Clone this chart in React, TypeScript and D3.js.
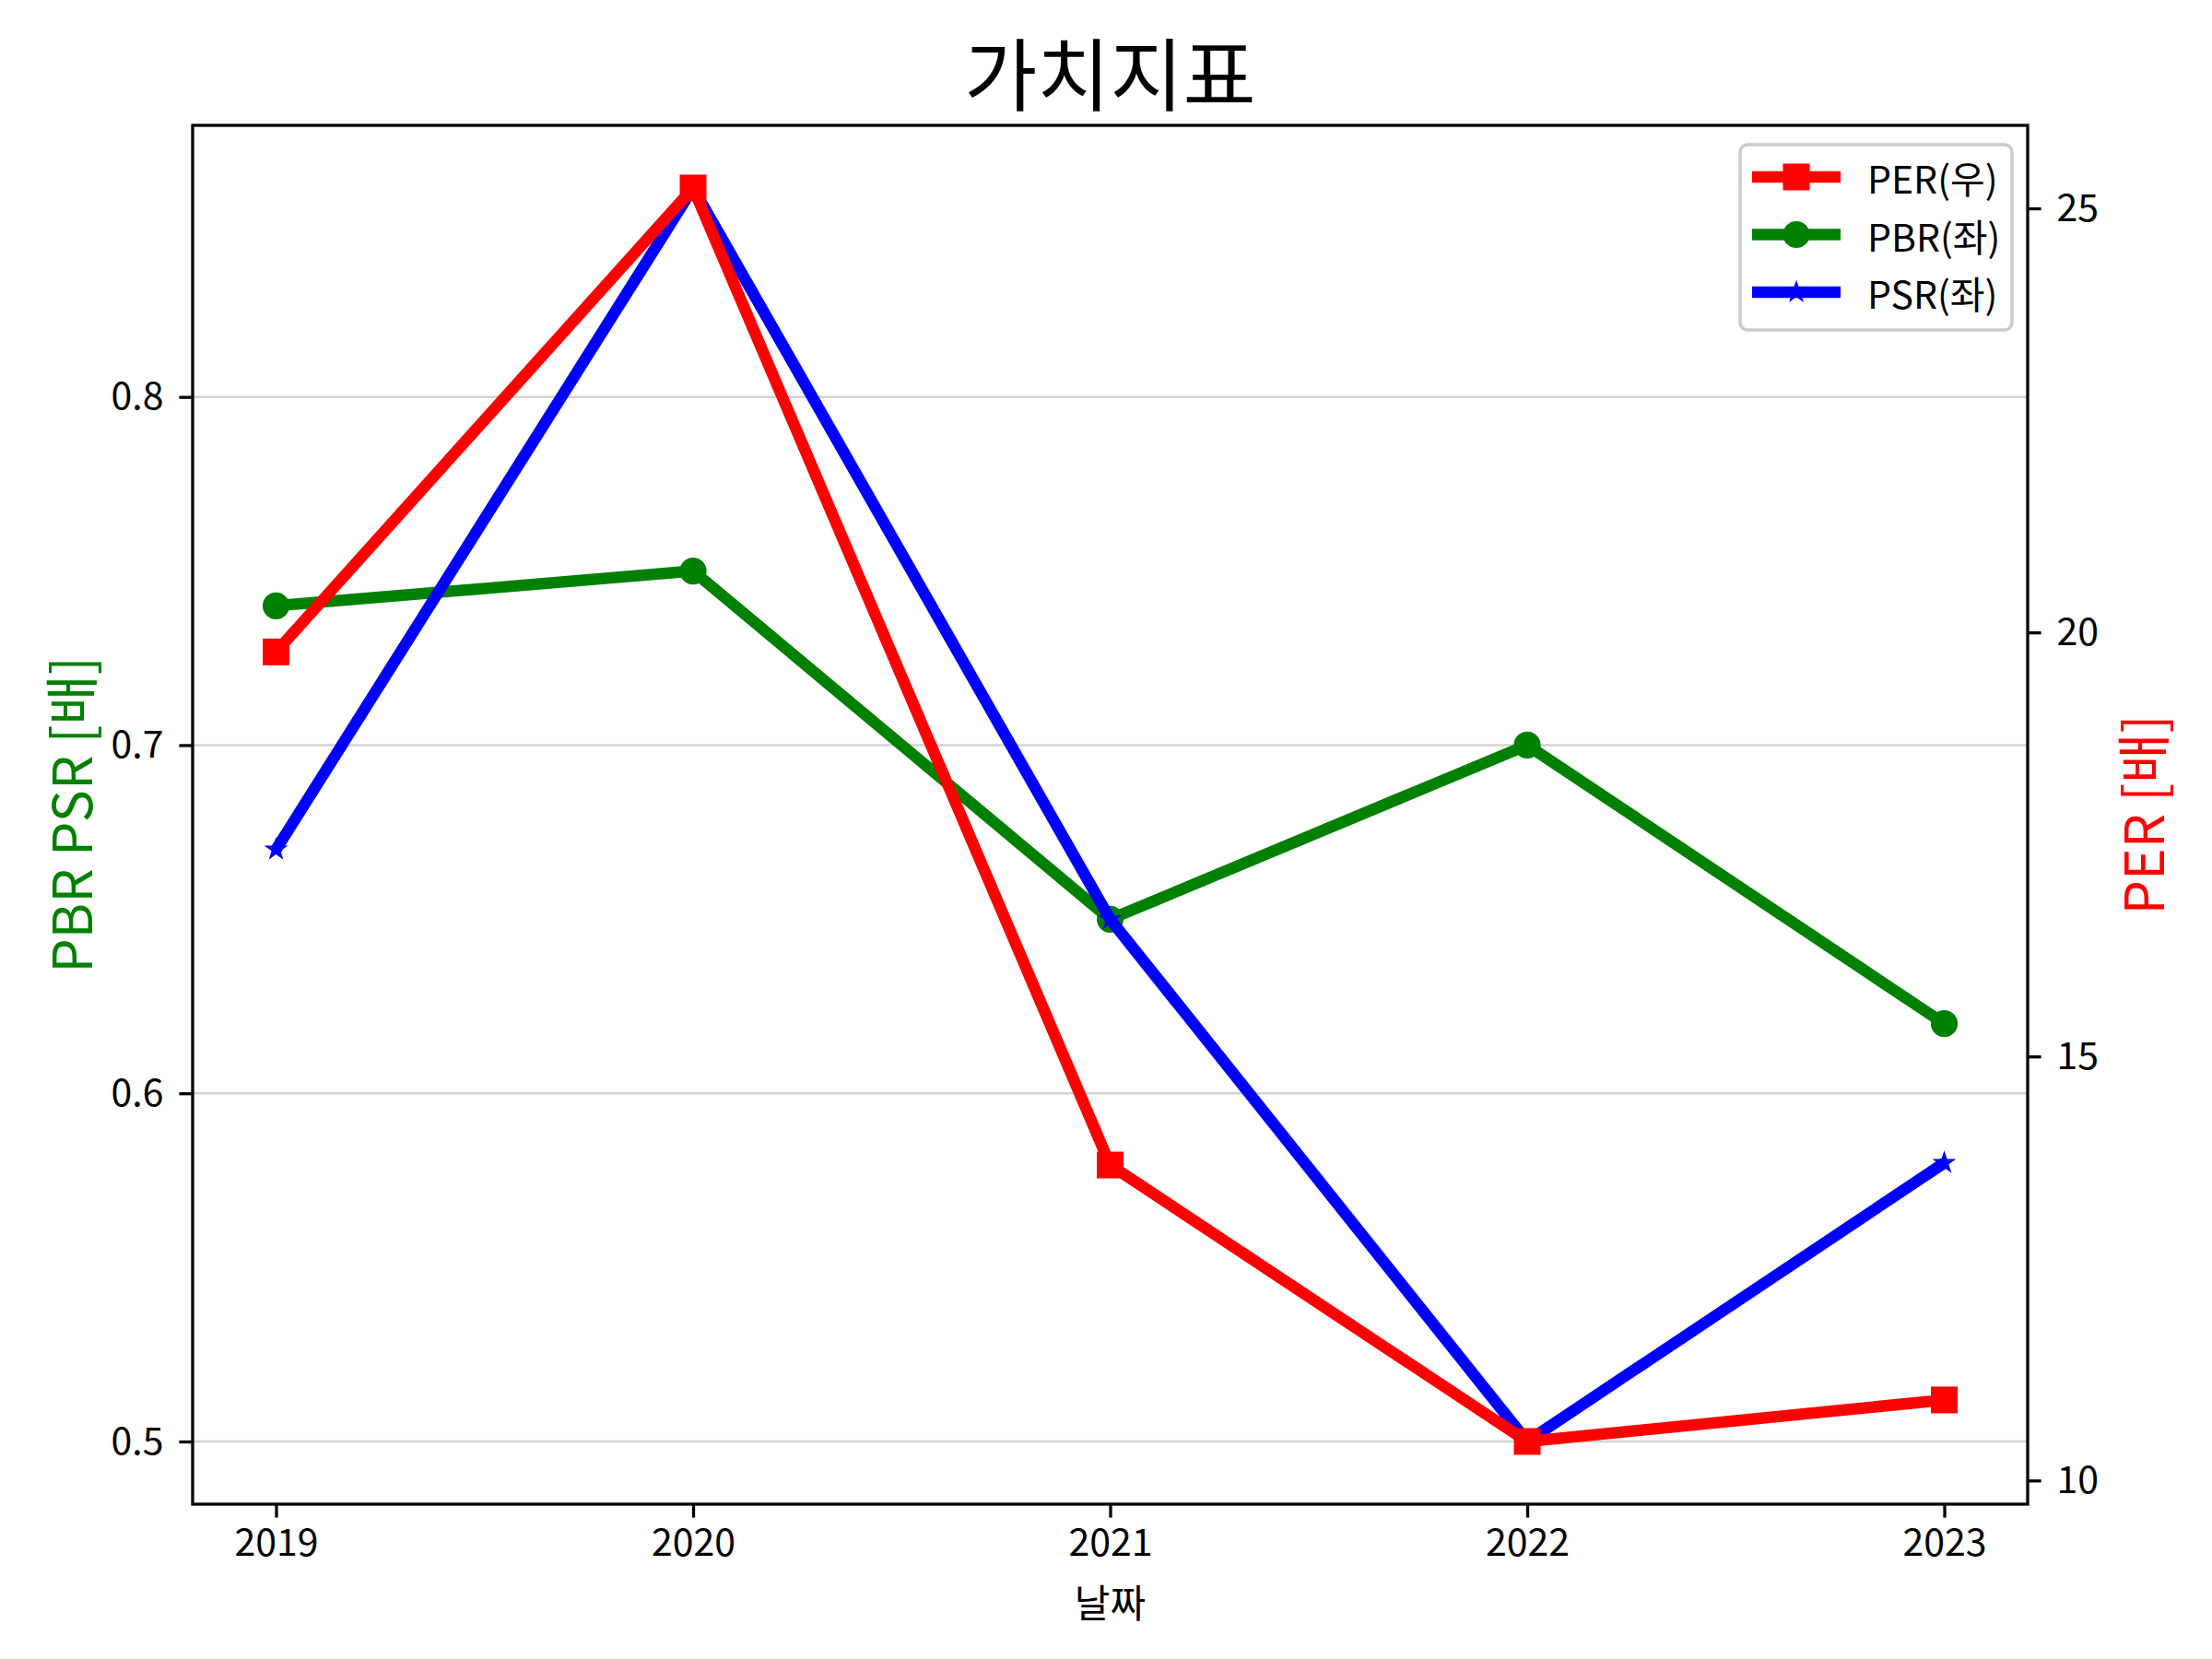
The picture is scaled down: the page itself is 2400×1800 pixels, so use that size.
import React, { useEffect, useRef } from 'react';
import * as d3 from 'd3';

const years = [2019, 2020, 2021, 2022, 2023];
const perValues = [19.77, 25.24, 13.72, 10.46, 10.95];
const pbrValues = [0.74, 0.75, 0.65, 0.7, 0.62];
const psrValues = [0.67, 0.86, 0.65, 0.5, 0.58];
const leftTicks = [0.5, 0.6, 0.7, 0.8];
const rightTicks = [10, 15, 20, 25];

const FONT = '"Noto Sans CJK KR", "Noto Sans", sans-serif';

// matplotlib-style autoscale with 5% margins
const padded = (vals: number[]): [number, number] => {
  const lo = d3.min(vals) as number;
  const hi = d3.max(vals) as number;
  const r = hi - lo;
  return [lo - 0.05 * r, hi + 0.05 * r];
};

const App: React.FC = () => {
  const svgRef = useRef<SVGSVGElement>(null);

  useEffect(() => {
    document.body.style.margin = '0';
    const W = 2400, H = 1800;
    const left = 209, right = 2200, top = 136, bottom = 1632;
    const lw = 12.5;

    const svg = d3.select(svgRef.current)
      .attr('width', W)
      .attr('height', H)
      .style('display', 'block')
      .style('font-family', FONT);
    svg.selectAll('*').remove();
    svg.append('rect').attr('width', W).attr('height', H).attr('fill', 'white');

    const x = d3.scaleLinear().domain([2019 - 0.2, 2023 + 0.2]).range([left, right]);
    const yL = d3.scaleLinear().domain(padded([...pbrValues, ...psrValues])).range([bottom, top]);
    const yR = d3.scaleLinear().domain(padded(perValues)).range([bottom, top]);

    // grid
    svg.append('g')
      .selectAll('line')
      .data(leftTicks)
      .enter()
      .append('line')
      .attr('x1', left).attr('x2', right)
      .attr('y1', d => yL(d)).attr('y2', d => yL(d))
      .attr('stroke', '#d3d3d3')
      .attr('stroke-width', 2.5);

    const plot = svg.append('g');
    const drawSeries = (
      vals: number[],
      scale: d3.ScaleLinear<number, number>,
      color: string,
      symbol: d3.SymbolType,
      size: number
    ) => {
      const line = d3.line<number>()
        .x((_, i) => x(years[i]))
        .y(d => scale(d));
      plot.append('path')
        .attr('d', line(vals) || '')
        .attr('fill', 'none')
        .attr('stroke', color)
        .attr('stroke-width', lw)
        .attr('stroke-linejoin', 'round')
        .attr('stroke-linecap', 'butt');
      plot.selectAll(null)
        .data(vals)
        .enter()
        .append('path')
        .attr('d', d3.symbol().type(symbol).size(size)() || '')
        .attr('transform', (d, i) => `translate(${x(years[i])},${scale(d)})`)
        .attr('fill', color);
    };

    drawSeries(pbrValues, yL, 'green', d3.symbolCircle, Math.PI * 14.6 * 14.6);
    drawSeries(psrValues, yL, 'blue', d3.symbolStar, 205);
    drawSeries(perValues, yR, 'red', d3.symbolSquare, 29 * 29);

    // axes
    const tickLen = 14.6;
    const axisW = 3.3;
    const styleAxis = (g: d3.Selection<SVGGElement, unknown, null, undefined>) => {
      g.select('.domain').remove();
      g.selectAll('.tick line').attr('stroke', 'black').attr('stroke-width', axisW);
      g.selectAll('.tick text')
        .attr('fill', 'black')
        .style('font-size', '41px')
        .style('font-family', FONT);
    };

    svg.append('g')
      .attr('transform', `translate(0,${bottom})`)
      .call(d3.axisBottom(x).tickValues(years).tickFormat(d => String(d)).tickSize(tickLen).tickPadding(12))
      .call(styleAxis)
      .selectAll('.tick text')
      .attr('dy', '0.71em');

    svg.append('g')
      .attr('transform', `translate(${left},0)`)
      .call(d3.axisLeft(yL).tickValues(leftTicks).tickFormat(d3.format('.1f')).tickSize(tickLen).tickPadding(17))
      .call(styleAxis);

    svg.append('g')
      .attr('transform', `translate(${right},0)`)
      .call(d3.axisRight(yR).tickValues(rightTicks).tickFormat(d => String(d)).tickSize(tickLen).tickPadding(17))
      .call(styleAxis);

    // spines
    svg.append('rect')
      .attr('x', left).attr('y', top)
      .attr('width', right - left).attr('height', bottom - top)
      .attr('fill', 'none')
      .attr('stroke', 'black')
      .attr('stroke-width', axisW);

    // title and labels
    svg.append('text')
      .attr('x', (left + right) / 2).attr('y', 76)
      .attr('text-anchor', 'middle')
      .attr('dominant-baseline', 'central')
      .style('font-size', '86px')
      .text('가치지표');

    svg.append('text')
      .attr('x', (left + right) / 2).attr('y', 1736)
      .attr('text-anchor', 'middle')
      .attr('dominant-baseline', 'central')
      .style('font-size', '42px')
      .text('날짜');

    svg.append('text')
      .attr('transform', `translate(74,${(top + bottom) / 2}) rotate(-90)`)
      .attr('text-anchor', 'middle')
      .attr('dominant-baseline', 'central')
      .attr('fill', 'green')
      .style('font-size', '59px')
      .text('PBR PSR [배]');

    svg.append('text')
      .attr('transform', `translate(2322,${(top + bottom) / 2}) rotate(-90)`)
      .attr('text-anchor', 'middle')
      .attr('dominant-baseline', 'central')
      .attr('fill', 'red')
      .style('font-size', '59px')
      .text('PER [배]');

    // legend
    const legendItems = [
      { label: 'PER(우)', color: 'red', symbol: d3.symbolSquare, size: 29 * 29 },
      { label: 'PBR(좌)', color: 'green', symbol: d3.symbolCircle, size: Math.PI * 14.6 * 14.6 },
      { label: 'PSR(좌)', color: 'blue', symbol: d3.symbolStar, size: 205 },
    ];
    const lg = svg.append('g');
    lg.append('rect')
      .attr('x', 1888).attr('y', 157)
      .attr('width', 295).attr('height', 201)
      .attr('rx', 8)
      .attr('fill', 'white').attr('fill-opacity', 0.8)
      .attr('stroke', '#cccccc').attr('stroke-width', 3.5);
    legendItems.forEach((it, i) => {
      const cy = 192 + i * 62.5;
      lg.append('line')
        .attr('x1', 1901).attr('x2', 1997)
        .attr('y1', cy).attr('y2', cy)
        .attr('stroke', it.color).attr('stroke-width', lw);
      lg.append('path')
        .attr('d', d3.symbol().type(it.symbol).size(it.size)() || '')
        .attr('transform', `translate(1949,${cy})`)
        .attr('fill', it.color);
      lg.append('text')
        .attr('x', 2026).attr('y', cy)
        .attr('dominant-baseline', 'central')
        .style('font-size', '41px')
        .text(it.label);
    });
  }, []);

  return <svg ref={svgRef}></svg>;
};

export default App;
